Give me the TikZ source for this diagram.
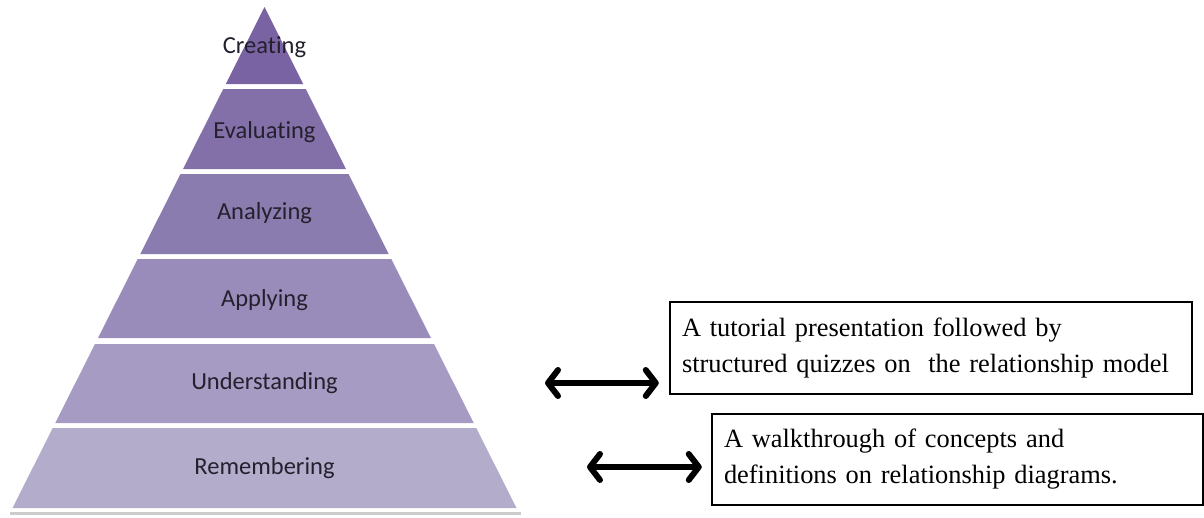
\documentclass[tikz,border=0pt]{standalone}
\usepackage{fontspec}
\setmainfont{Liberation Serif}
\newfontfamily\pyrfont[Ligatures=CommonOff]{Carlito}
\usetikzlibrary{arrows.meta}

\definecolor{lvlA}{HTML}{7A63A2}
\definecolor{lvlB}{HTML}{8370A9}
\definecolor{lvlC}{HTML}{8B7CB0}
\definecolor{lvlD}{HTML}{9A8CBA}
\definecolor{lvlE}{HTML}{A69BC3}
\definecolor{lvlF}{HTML}{B4ACCB}
\definecolor{lvltext}{HTML}{24202E}

\tikzset{
  lvllabel/.style={font=\pyrfont\fontsize{24.5}{28}\selectfont, text=lvltext, inner sep=0pt},
  notebox/.style={draw=black, line width=2.5pt, fill=white, align=left,
    font=\fontsize{26.4}{36}\selectfont, inner xsep=12pt, inner ysep=0pt},
  linkarrow/.style={line width=6pt, line cap=round,
    {Straight Barb[length=10pt,width=26pt,round]}-{Straight Barb[length=10pt,width=26pt,round]}}
}

% apex of the pyramid and the slope of its sides
\def\apx{264.5}
\def\apy{7}
\def\slope{0.503}

\begin{document}
\begin{tikzpicture}[x=1pt,y=-1pt]
  \useasboundingbox (0,0) rectangle (1204,517);

  % base shadow
  \draw[line width=3pt, color=black!20] (10,513) -- (521,513);

  % pyramid levels: top and bottom edge of each band
  \foreach \yt/\yb/\col in {7/84/lvlA, 89/169/lvlB, 174/254/lvlC, 259/338/lvlD, 344/423/lvlE, 428/508/lvlF}{
    \pgfmathsetmacro{\wt}{\slope*(\yt-\apy)}
    \pgfmathsetmacro{\wb}{\slope*(\yb-\apy)}
    \fill[\col] (\apx-\wt,\yt) -- (\apx+\wt,\yt) -- (\apx+\wb,\yb) -- (\apx-\wb,\yb) -- cycle;
  }

  \node[lvllabel] (creating) at (264.5,47) {Creating};
  \node[lvllabel] (evaluating) at (264.5,132) {Evaluating};
  \node[lvllabel] (analyzing) at (264.5,213) {Analyzing};
  \node[lvllabel] (applying) at (264.5,300) {Applying};
  \node[lvllabel] (understanding) at (264.5,383) {Understanding};
  \node[lvllabel] (remembering) at (264.5,468) {Remembering};

  % description boxes
  \node[notebox, minimum width=522pt, minimum height=92pt, text width=498pt]
    (tutorial) at (931,348)
    {A tutorial presentation followed by\\structured quizzes on\ \ the relationship model};
  \node[notebox, minimum width=491pt, minimum height=91pt, text width=467pt]
    (walk) at (957.5,459.5)
    {A walkthrough of concepts and\\definitions on relationship diagrams.};

  % links between levels and boxes
  \coordinate (uend) at (545,383);
  \coordinate (rend) at (587,467);
  \draw[linkarrow, shorten >=10pt] (uend) -- (tutorial.west |- uend);
  \draw[linkarrow, shorten >=9pt] (rend) -- (walk.west |- rend);
\end{tikzpicture}
\end{document}
